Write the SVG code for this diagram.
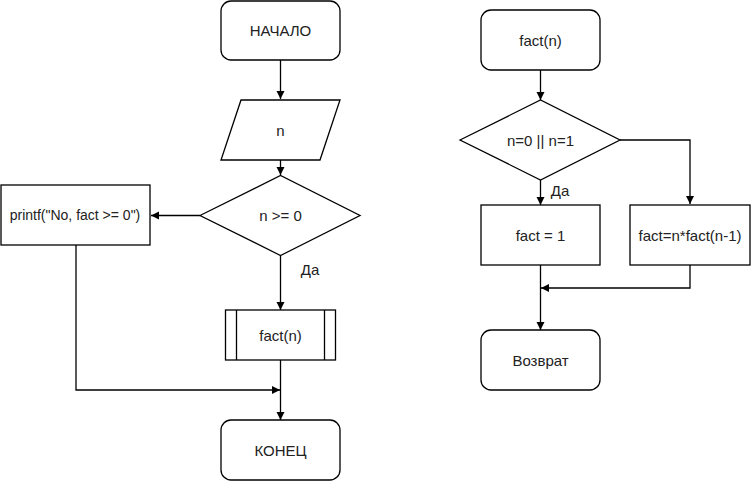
<svg xmlns="http://www.w3.org/2000/svg" width="751" height="481" viewBox="0 0 751 481">
<style>
.s{fill:#fff;stroke:#000;stroke-width:1.3}
.t{font-family:"Liberation Sans",Arial,sans-serif;font-size:15px;fill:#222;text-anchor:middle}
.sm{font-size:14px}
.c{fill:none;stroke:#000;stroke-width:1.3}
</style>
<defs>
<marker id="a" markerWidth="10" markerHeight="10" refX="9" refY="5" orient="auto" markerUnits="userSpaceOnUse">
<path d="M1,1 L9,5 L1,9 Z" fill="#000"/>
</marker>
</defs>
<rect width="751" height="481" fill="#fff"/>
<g id="connectors">
<path class="c" d="M280.5,60 V99" marker-end="url(#a)"/>
<path class="c" d="M280.5,160 V175" marker-end="url(#a)"/>
<path class="c" d="M200,215.5 H151" marker-end="url(#a)"/>
<path class="c" d="M280.5,255.5 V310" marker-end="url(#a)"/>
<path class="c" d="M280.5,360 V420" marker-end="url(#a)"/>
<path class="c" d="M76,245 V390 H280" marker-end="url(#a)"/>
<path class="c" d="M540.5,70 V100" marker-end="url(#a)"/>
<path class="c" d="M540.5,180 V205" marker-end="url(#a)"/>
<path class="c" d="M620,140 H690 V204" marker-end="url(#a)"/>
<path class="c" d="M540.5,265 V330" marker-end="url(#a)"/>
<path class="c" d="M690,265 V288 H541" marker-end="url(#a)"/>
<text class="t" x="310" y="275">Да</text>
<text class="t" x="560" y="196">Да</text>
</g>
<g id="start">
<rect class="s" x="221" y="1" width="119" height="59" rx="10"/>
<text class="t" x="280.5" y="36">НАЧАЛО</text>
</g>
<g id="input">
<polygon class="s" points="241,100 340,100 320,160 221,160"/>
<text class="t" x="280.5" y="136">n</text>
</g>
<g id="cond">
<polygon class="s" points="200,215.5 280.5,175.5 360,215.5 280.5,255.5"/>
<text class="t" x="280.5" y="221">n &gt;= 0</text>
</g>
<g id="printf">
<rect class="s" x="1" y="185" width="149" height="60"/>
<text class="t sm" x="75" y="220">printf("No, fact &gt;= 0")</text>
</g>
<g id="call">
<rect class="s" x="225.5" y="310" width="110" height="50"/>
<path class="c" d="M236.5,310 V360 M324.5,310 V360"/>
<text class="t" x="280.5" y="341">fact(n)</text>
</g>
<g id="end">
<rect class="s" x="221" y="420" width="119" height="60" rx="10"/>
<text class="t" x="280.5" y="456">КОНЕЦ</text>
</g>
<g id="fstart">
<rect class="s" x="481" y="10" width="119" height="60" rx="10"/>
<text class="t" x="540.5" y="46">fact(n)</text>
</g>
<g id="fcond">
<polygon class="s" points="460,140 540.5,100 620,140 540.5,180"/>
<text class="t" x="540.5" y="146">n=0 || n=1</text>
</g>
<g id="f1">
<rect class="s" x="481" y="205" width="119" height="60"/>
<text class="t" x="540.5" y="241">fact = 1</text>
</g>
<g id="frec">
<rect class="s" x="630" y="205" width="120" height="60"/>
<text class="t" x="690" y="241">fact=n*fact(n-1)</text>
</g>
<g id="fret">
<rect class="s" x="481" y="330" width="119" height="60" rx="10"/>
<text class="t" x="540.5" y="366">Возврат</text>
</g>
</svg>
